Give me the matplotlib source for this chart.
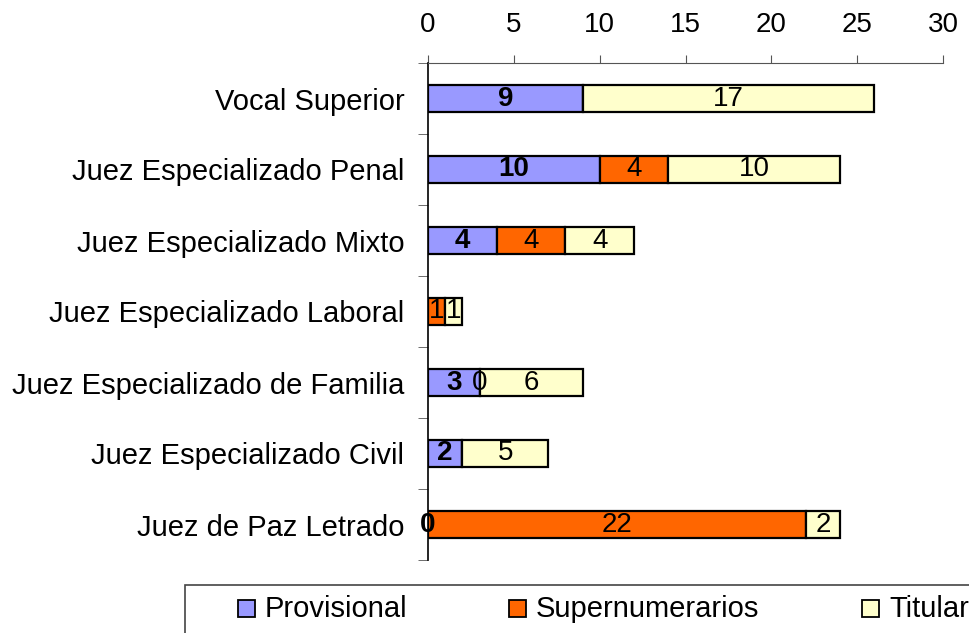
import matplotlib.pyplot as plt
from matplotlib.patches import Rectangle
import numpy as np

plt.rcParams['font.family'] = ['Liberation Sans', 'DejaVu Sans']

categorias = ['Vocal Superior', 'Juez Especializado Penal', 'Juez Especializado Mixto',
              'Juez Especializado Laboral', 'Juez Especializado de Familia',
              'Juez Especializado Civil', 'Juez de Paz Letrado']
provisional = [9, 10, 4, 0, 3, 2, 0]
supernumerarios = [0, 4, 4, 1, 0, 0, 22]
titular = [17, 10, 4, 1, 6, 5, 2]
# labels shown in the picture (None = no label)
lab_prov = ['9', '10', '4', None, '3', '2', '0']
lab_sup = [None, '4', '4', '1', '0', None, '22']
lab_tit = ['17', '10', '4', '1', '6', '5', '2']

series = [('Provisional', provisional, lab_prov, '#9999FF', 'bold'),
          ('Supernumerarios', supernumerarios, lab_sup, '#FF6600', 'normal'),
          ('Titular', titular, lab_tit, '#FFFFCC', 'normal')]

W, H = 969, 633
fig = plt.figure(figsize=(W / 100, H / 100), dpi=100)
ax = fig.add_axes([428 / W, 1 - 560 / H, (943 - 428) / W, (560 - 63) / H])

y = np.arange(len(categorias))
left = np.zeros(len(categorias))
for name, vals, labs, col, fw in series:
    vals = np.array(vals, dtype=float)
    ax.barh(y, vals, left=left, height=0.39, color=col, edgecolor='black', linewidth=1.6, label=name)
    for i in range(len(y)):
        if labs[i] is not None:
            ax.text(left[i] + vals[i] / 2, y[i], labs[i], ha='center', va='center',
                    fontsize=20, fontweight=fw)
    left = left + vals

ax.set_xlim(0, 30)
ax.set_ylim(len(categorias) - 0.5, -0.5)
ax.xaxis.tick_top()
ax.set_xticks(np.arange(0, 31, 5))
ax.tick_params(axis='x', labelsize=20, length=6, direction='out', pad=12, color='#555555')
ax.set_yticks(y)
ax.set_yticklabels(categorias, fontsize=21)
ax.tick_params(axis='y', length=0, pad=17)
ax.set_yticks(np.arange(-0.5, len(categorias), 1), minor=True)
ax.tick_params(axis='y', which='minor', length=7, direction='out', color='#555555')
for s in ['right', 'bottom']:
    ax.spines[s].set_visible(False)
ax.spines['top'].set_color('#555555')
ax.spines['left'].set_linewidth(1.2)

# legend drawn by hand (box runs off the right edge like the original)
fig.patches.append(Rectangle((185 / W, 1 - 640 / H), 820 / W, 55 / H, transform=fig.transFigure,
                             facecolor='white', edgecolor='#444444', linewidth=1.2))
hx = [238, 509, 862]
for (name, vals, labs, col, fw), x0 in zip(series, hx):
    fig.patches.append(Rectangle((x0 / W, 1 - 617 / H), 17 / W, 17 / H, transform=fig.transFigure,
                                 facecolor=col, edgecolor='black', linewidth=1.3))
    fig.text((x0 + 27) / W, 1 - 609 / H, name, fontsize=21, va='center', ha='left')

fig.savefig('out.png', dpi=100)
